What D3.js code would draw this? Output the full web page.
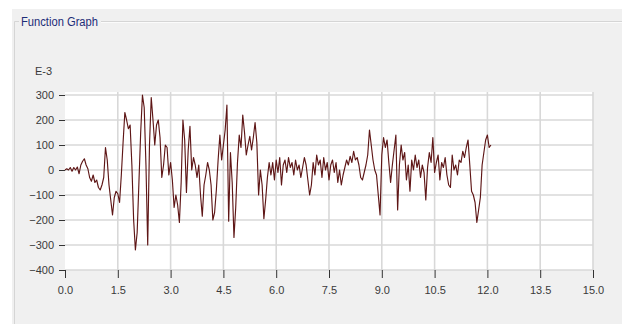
<!DOCTYPE html>
<html>
<head>
<meta charset="utf-8">
<script src="https://cdn.jsdelivr.net/npm/d3@7"></script>
<style>
  body { margin: 0; background: #fff; }
  svg { display: block; }
</style>
</head>
<body>
<svg id="graph" width="622" height="324"></svg>
<script>
// sample step of the recorded signal (s)
const dt = 0.05;
// signal values in E-3 units, one per step starting at t = 0
const signal = [
  0, 5, 0, 10, -5, 10, 0, 12, -15, 20, 35, 45, 20, 5, -30, -45, -20, -50, -40, -70,
  -80, -60, -30, 90, 40, -60, -120, -180, -110, -85, -95, -130, -20, 110, 230, 200, 165, 180, 20, -200,
  -320, -250, -50, 150, 300, 250, 20, -300, 100, 290, 200, 100, 180, 200, 130, -30, 20, 100, 90, -20,
  30, -40, -150, -100, -140, -210, -50, 200, 120, -90, 80, 175, 0, 50, 20, -30, 20, -100, -185, -60,
  -20, 30, 0, -60, -200, -170, -80, 40, 140, 40, 100, 160, 260, -205, 70, -50, -270, -150, 30, 140,
  90, 220, 150, 60, 100, 135, 80, 130, 190, 110, -100, 0, -60, -195, -120, -30, 30, -20, 30, -40,
  40, -10, 50, -60, 20, 40, -10, 50, 10, 30, -20, 40, 0, 20, -30, 10, 50, 20, -40, -100,
  -60, 30, -20, 60, 20, 40, -30, 50, 0, 30, -40, 20, 40, -10, 30, -50, 0, -60, -20, 10,
  40, 20, 55, 30, 75, 40, 50, 20, -30, -40, -10, 20, 60, 160, 100, 40, 0, -20, -100, -180,
  60, 130, 90, 120, 30, -50, 20, 80, 140, -160, 20, 100, 40, 70, -40, 20, -85, 40, 0, 60,
  10, 40, -30, 20, -10, -120, 10, 70, 30, 130, -10, 30, 60, -40, 30, 10, 50, -20, -60, -70,
  60, 0, 20, -20, 40, 30, 75, 50, 90, 120, 20, -85, -100, -130, -210, -160, -110, 20, 70, 120,
  140, 90, 100
];
const xTicks = [0, 1.5, 3, 4.5, 6, 7.5, 9, 10.5, 12, 13.5, 15];
const yTicks = [-400, -300, -200, -100, 0, 100, 200, 300];
const title = 'Function Graph';
const unitLabel = 'E-3';

const W = 622, H = 324;
const svg = d3.select('#graph');

// group box background and frame
svg.append('rect').attr('x', 12).attr('y', 9).attr('width', W - 12).attr('height', H - 9)
  .attr('fill', '#f0f0f0');
svg.append('line').attr('x1', 14.5).attr('x2', 14.5).attr('y1', 21.5).attr('y2', H)
  .attr('stroke', '#d5d5d5');
svg.append('line').attr('x1', 14.5).attr('x2', 19).attr('y1', 21.5).attr('y2', 21.5)
  .attr('stroke', '#d5d5d5');
svg.append('line').attr('x1', 101).attr('x2', W).attr('y1', 21.5).attr('y2', 21.5)
  .attr('stroke', '#d5d5d5');
svg.append('line').attr('x1', 101).attr('x2', W).attr('y1', 22.5).attr('y2', 22.5)
  .attr('stroke', '#fbfbfb');
svg.append('text').attr('x', 21).attr('y', 26)
  .attr('font-family', 'Liberation Sans, Arial, sans-serif').attr('font-size', 12)
  .attr('textLength', 77).attr('lengthAdjust', 'spacingAndGlyphs')
  .attr('fill', '#1d2d78').text(title);

const x = d3.scaleLinear().domain([0, 15]).range([65, 593]);
const y = d3.scaleLinear().domain([-400, 300]).range([270, 95]);

// plot background
svg.append('rect').attr('x', x(0)).attr('y', y(300) - 3)
  .attr('width', x(15) - x(0)).attr('height', y(-400) - y(300) + 3)
  .attr('fill', '#ffffff');

// grid
const grid = svg.append('g').attr('stroke', '#d8d8d8').attr('stroke-width', 1.6);
grid.selectAll('.h').data(yTicks).join('line')
  .attr('x1', x(0)).attr('x2', x(15))
  .attr('y1', d => y(d)).attr('y2', d => y(d));
grid.selectAll('.v').data(xTicks.slice(1)).join('line')
  .attr('x1', d => x(d)).attr('x2', d => x(d))
  .attr('y1', y(300) - 3).attr('y2', y(-400));

// axes (ticks + labels only)
const yAxis = d3.axisLeft(y).tickValues(yTicks).tickSize(6).tickPadding(5)
  .tickFormat(d3.format('d'));
const xAxis = d3.axisBottom(x).tickValues(xTicks).tickSize(8).tickPadding(8)
  .tickFormat(d3.format('.1f'));

const ya = svg.append('g').attr('transform', `translate(${x(0)},0)`).call(yAxis);
const xa = svg.append('g').attr('transform', `translate(0,${y(-400)})`).call(xAxis);
[ya, xa].forEach(a => {
  a.select('.domain').remove();
  a.selectAll('line').attr('stroke', '#333');
  a.selectAll('text').attr('fill', '#3a3a3a')
    .attr('font-family', 'Liberation Sans Narrow, Liberation Sans, Arial, sans-serif')
    .attr('font-size', 11);
});

svg.append('text').attr('x', 35).attr('y', 75)
  .attr('font-family', 'Liberation Sans Narrow, Liberation Sans, Arial, sans-serif')
  .attr('font-size', 11)
  .attr('fill', '#3a3a3a').text(unitLabel);

// signal trace
const line = d3.line()
  .x((d, i) => x(i * dt))
  .y(d => y(d));
svg.append('path').datum(signal)
  .attr('d', line)
  .attr('fill', 'none')
  .attr('stroke', '#5e1616')
  .attr('stroke-width', 1.15)
  .attr('stroke-linejoin', 'round');
</script>
</body>
</html>
